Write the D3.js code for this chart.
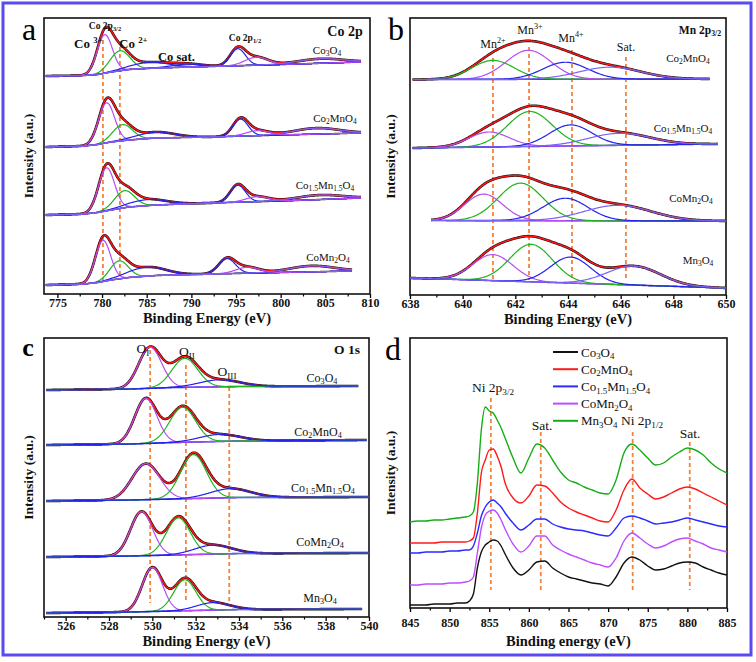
<!DOCTYPE html>
<html><head><meta charset="utf-8">
<script src="https://cdn.jsdelivr.net/npm/d3@7"></script>
<style>body{margin:0;background:#fff}</style>
</head><body>
<svg id="chart" width="756" height="662"></svg>
<script>
// ================= DATA =================
// sample names (_ = subscript)
const samplesA = ["Co_3O_4", "Co_2MnO_4", "Co_{1.5}Mn_{1.5}O_4", "CoMn_2O_4"];
const samplesB = ["Co_2MnO_4", "Co_{1.5}Mn_{1.5}O_4", "CoMn_2O_4", "Mn_3O_4"];
const samplesC = ["Co_3O_4", "Co_2MnO_4", "Co_{1.5}Mn_{1.5}O_4", "CoMn_2O_4", "Mn_3O_4"];
const samplesD = ["Co_3O_4", "Co_2MnO_4", "Co_{1.5}Mn_{1.5}O_4", "CoMn_2O_4", "Mn_3O_4"];

// ---- (a) Co 2p : energy range, background [eV, intensity], fitted peaks [centre eV, height, FWHM, component]
const coRanges = [[773.7, 809], [773.7, 809], [773.7, 809], [773.7, 808]];
const coBackgrounds = [
  [[773.7,218],[778,218.5],[779.5,219.5],[781,222],[783,224.5],[786,226],[792,227.5],[800,229.5],[809,232]],
  [[773.7,147],[778,148],[779.5,149.5],[781,152],[783,154],[786,156],[792,157],[800,159],[809,161]],
  [[773.7,79],[778,80],[779.5,81.5],[781,84],[783,87],[786,89],[792,91],[800,93],[809,96]],
  [[773.7,9],[778,10],[779.5,11.5],[781,14],[783,16.5],[786,18.5],[792,20],[800,21.5],[808,23]]
];
const coComponents = ["Co3+ 2p3/2", "Co2+ 2p3/2", "sat 2p3/2", "Co3+ 2p1/2", "Co2+ 2p1/2", "sat 2p1/2"];
const coPeaks = [
  [[780.3,38.5,2.0,0],[782.0,20,2.6,1],[785.3,6,5,2],[789.5,3,4,2],[795.2,17,2.0,3],[797.3,8,3,4],[804.5,4.5,6,5]],
  [[780.5,40,2.1,0],[782.3,16,2.6,1],[786.0,6,5,2],[795.5,17,2.0,3],[797.4,5,3,4],[804.0,6,6,5]],
  [[780.5,43,2.1,0],[782.5,17,2.6,1],[785.1,6,5,2],[795.2,17,2.0,3],[797.4,5,3,4],[804.4,4.5,6,5]],
  [[780.1,41,2.0,0],[781.9,18,2.4,1],[785.0,9,5,2],[794.0,15,2.2,3],[796.3,6,3,4],[803.5,6,6,5]]
];
const coMarkers = [780.1, 782.0];
const coTicks = [775, 780, 785, 790, 795, 800, 805, 810];

// ---- (b) Mn 2p3/2
const mnRanges = [[638.1, 649.4], [638.1, 649.7], [638.8, 650], [638, 650]];
const mnBackgrounds = [
  [[638.1,215.5],[649.4,216]],
  [[638.1,147],[649.7,151]],
  [[638.8,74.5],[650,74]],
  [[638,17],[650,7]]
];
const mnComponents = ["Mn2+", "Mn3+", "Mn4+", "Sat."];
const mnPeaks = [
  [[641.15,19,1.9,0],[642.5,29,2.0,1],[643.9,17,2.0,2],[645.6,12,2.8,3]],
  [[641.0,15,1.8,0],[642.55,35,2.0,1],[644.1,21,1.9,2],[645.95,12,2.8,3]],
  [[640.8,26.5,1.7,0],[642.2,37.5,2.0,1],[643.9,22.5,2.0,2],[645.9,15.5,3.0,3]],
  [[641.15,26,1.8,0],[642.6,37.5,1.9,1],[644.1,26,1.8,2],[646.5,19,2.4,3]]
];
const mnMarkers = [641.15, 642.52, 644.15, 646.2];
const mnTicks = [638, 640, 642, 644, 646, 648, 650];

// ---- (c) O 1s
const oRanges = [[525.1, 539.5], [525.1, 539.9], [525.1, 540], [525.1, 540], [525.1, 539.7]];
const oBackgrounds = [
  [[525.1,227],[529,228],[531,229.5],[534,230.5],[539.5,231]],
  [[525.1,172],[529,173],[531,174.5],[534,176],[539.9,177]],
  [[525.1,116],[529,117],[531,118],[534,119.5],[540,120]],
  [[525.1,60],[529,61],[531,62],[534,63.5],[540,64]],
  [[525.1,4],[529,5],[531,6],[534,7.5],[539.7,8]]
];
const oComponents = ["OI", "OII", "OIII"];
const oPeaks = [
  [[529.9,41,1.25,0],[531.5,29,1.4,1],[533.1,7,2.2,2]],
  [[529.7,45,1.2,0],[531.4,35,1.4,1],[533.1,7,2.2,2]],
  [[529.7,36,1.5,0],[531.9,44,1.4,1],[533.6,9,2.2,2]],
  [[529.5,44,1.2,0],[531.2,37,1.3,1],[532.8,9,2.0,2]],
  [[530.0,44,1.1,0],[531.5,31,1.2,1],[532.8,7.5,1.8,2]]
];
const oMarkers = [529.9, 531.55, 533.55];
const oTicks = [526, 528, 530, 532, 534, 536, 538, 540];

// ---- (d) Ni 2p : binding energy grid and offset intensities
const niEnergy = [845,846,847,848,849,850,851,852,852.5,853,853.5,854,854.5,855,855.5,856,856.5,
  857,858,859,860,861,862,863,864,865,866,867,868,869,870,871,872,873,874,875,876,877,878,879,880,881,882,883,884,885];
const niCo3O4 = [3,3,3,4,4,4,5,5,7,14,40,56,63,66,68,67,62,
  54,40,33,38,46,47,40,35,31,29,27,25,24,22,31,45,51,48,42,38,39,42,45,46,45,41,38,35,33];
const niCo2MnO4 = [65,65,65,65,66,66,66,66,67,70,95,135,148,158,159,152,141,
  125,110,105,112,123,122,115,106,100,96,93,90,87,86,98,118,129,120,114,109,111,115,119,121,119,115,111,107,103];
const niCo15Mn15O4 = [55,55,56,56,56,57,57,58,58,62,75,92,101,106,108,105,101,
  95,85,78,83,89,89,84,81,79,78,77,75,73,72,80,90,92,90,87,84,85,86,88,90,88,86,84,82,81];
const niCoMn2O4 = [23,23,24,24,24,25,25,26,27,31,55,80,93,97,98,95,88,
  79,64,56,62,72,72,63,58,54,51,48,45,43,41,50,67,75,70,64,60,62,66,69,70,67,64,60,58,56];
const niMn3O4 = [86,87,87,88,88,89,90,91,92,96,125,178,201,197,195,188,180,
  170,150,135,150,164,160,148,136,128,125,121,118,115,114,128,155,164,158,150,143,145,151,156,160,158,153,145,139,135];
const niSeries = [niCo3O4, niCo2MnO4, niCo15Mn15O4, niCoMn2O4, niMn3O4];
const niMarkers = [855.2, 861.5, 873.1, 880.3];
const niTicks = [845, 850, 855, 860, 865, 870, 875, 880, 885];

// ================= DRAWING =================
const SERIF = "'Liberation Serif','Times New Roman',serif";
const C = {purple:"#b64cf2", green:"#1fb41f", blue:"#2323ee", lav:"#7a62f8", red:"#ff1515", orange:"#f5813b"};
const svg = d3.select('#chart');
svg.append('rect').attr('x',3).attr('y',3).attr('width',748).attr('height',652)
  .attr('fill','none').attr('stroke','#5a4af2').attr('stroke-width',3);

function panel(xd, xr, yd, yr) {
  return {x: d3.scaleLinear().domain(xd).range(xr), y: d3.scaleLinear().domain(yd).range(yr),
          x0: xr[0], x1: xr[1], yb: yr[0], yt: yr[1]};
}
const PA = panel([773.5, 810], [44, 370], [0, 276], [294, 18]);
const PB = panel([638, 650], [410, 726], [0, 277], [295, 18]);
const PC = panel([525, 540], [44, 369], [0, 279], [617, 338]);
const PD = panel([845, 885], [410, 727], [0, 270], [608, 338]);

function rich(t, str, size) {
  const re = /([_^])(\{([^}]*)\}|(.))|([^_^]+)/g;
  let m, shift = 0;
  while ((m = re.exec(str))) {
    let txt, s = 0;
    if (m[5] !== undefined) { txt = m[5]; }
    else { txt = m[3] !== undefined ? m[3] : m[4]; s = m[1] === '_' ? size * 0.2 : -size * 0.4; }
    const ts = t.append('tspan').text(txt);
    if (s - shift !== 0) ts.attr('dy', s - shift);
    if (s !== 0) ts.attr('font-size', size * 0.68);
    shift = s;
  }
  return t;
}
function label(x, y, str, size, opts = {}) {
  const t = svg.append('text').attr('x', x).attr('y', y).attr('font-family', SERIF)
    .attr('font-size', size).attr('fill', '#111')
    .attr('text-anchor', opts.anchor || 'middle').attr('font-weight', opts.bold ? 'bold' : 'normal');
  return rich(t, str, size);
}

function axes(P, ticks, minorStep, xlabel, labelY, tickPad, ylabelX) {
  const g = svg.append('g');
  const ax = g.append('g').attr('transform', `translate(0,${P.yb})`)
    .call(d3.axisBottom(P.x).tickValues(ticks).tickSize(4).tickPadding(tickPad).tickFormat(d3.format('d')));
  ax.select('.domain').remove();
  ax.selectAll('line').attr('stroke', '#000').attr('stroke-width', 1.3);
  ax.selectAll('text').attr('font-family', SERIF).attr('font-weight', 'bold').attr('font-size', 12).attr('fill', '#111');
  const dom = P.x.domain();
  const minor = d3.range(Math.ceil(dom[0] / minorStep) * minorStep, dom[1] + 1e-9, minorStep)
    .filter(v => !ticks.some(t => Math.abs(t - v) < 1e-6));
  const mg = g.append('g').attr('transform', `translate(0,${P.yb})`)
    .call(d3.axisBottom(P.x).tickValues(minor).tickSize(2.5).tickFormat(''));
  mg.select('.domain').remove();
  mg.selectAll('line').attr('stroke', '#000').attr('stroke-width', 1.2);
  g.append('rect').attr('x', P.x0).attr('y', P.yt).attr('width', P.x1 - P.x0).attr('height', P.yb - P.yt)
    .attr('fill', 'none').attr('stroke', '#111').attr('stroke-width', 1.6);
  g.append('text').attr('x', (P.x0 + P.x1) / 2).attr('y', labelY).attr('text-anchor', 'middle')
    .attr('font-family', SERIF).attr('font-weight', 'bold').attr('font-size', 14.5).attr('fill', '#111').text(xlabel);
  g.append('text').attr('transform', `translate(${ylabelX},${(P.yt + P.yb) / 2}) rotate(-90)`)
    .attr('text-anchor', 'middle').attr('font-family', SERIF).attr('font-weight', 'bold')
    .attr('font-size', 13.5).attr('fill', '#111').text('Intensity (a.u.)');
}

function markers(P, list, tops, bottom) {
  list.forEach((e, i) => {
    svg.append('line').attr('x1', P.x(e)).attr('x2', P.x(e)).attr('y1', P.y(tops[i])).attr('y2', P.y(bottom))
      .attr('stroke', C.orange).attr('stroke-width', 1.8).attr('stroke-dasharray', '4,3');
  });
}

const gauss = (x, c, h, w) => h * Math.exp(-4 * Math.LN2 * (x - c) * (x - c) / (w * w));

function fits(P, ranges, bgs, peaks, colorsFor, bgColor) {
  const line = d3.line().x(d => P.x(d[0])).y(d => P.y(d[1]));
  ranges.forEach((r, i) => {
    const bg = d3.scaleLinear().domain(bgs[i].map(d => d[0])).range(bgs[i].map(d => d[1])).clamp(true);
    const xs = d3.range(r[0], r[1] + 1e-9, 0.03);
    const env = xs.map(x => [x, bg(x) + d3.sum(peaks[i], p => gauss(x, p[0], p[1], p[2]))]);
    svg.append('path').attr('d', line(env)).attr('fill', 'none').attr('stroke', '#111').attr('stroke-width', 2.6);
    svg.append('path').attr('d', line(env)).attr('fill', 'none').attr('stroke', C.red).attr('stroke-width', 1.5);
    if (bgColor) svg.append('path').attr('d', line(xs.map(x => [x, bg(x)])))
      .attr('fill', 'none').attr('stroke', bgColor).attr('stroke-width', 1.6);
    peaks[i].forEach(p => {
      svg.append('path').attr('d', line(xs.map(x => [x, bg(x) + gauss(x, p[0], p[1], p[2])])))
        .attr('fill', 'none').attr('stroke', colorsFor(i, p[3])).attr('stroke-width', 1.2);
    });
  });
}

// ---- panel a
axes(PA, coTicks, 2.5, 'Binding Energy (eV)', 323, 0, 33);
markers(PA, coMarkers, [254, 247], 14);
fits(PA, coRanges, coBackgrounds, coPeaks,
  (i, k) => [C.purple, C.green, C.blue, C.blue, C.purple, C.lav][k], '#5b2330');
// ---- panel b
axes(PB, mnTicks, 1, 'Binding Energy (eV)', 324, 0, 395);
markers(PB, mnMarkers, [237, 248, 245, 238], 15);
const mnColorSets = [[C.green, C.purple, C.blue, C.lav], [C.purple, C.green, C.blue, C.lav],
                     [C.purple, C.green, C.blue, C.lav], [C.purple, C.green, C.blue, C.lav]];
fits(PB, mnRanges, mnBackgrounds, mnPeaks, (i, k) => mnColorSets[i][k], '#4a3ae0');
// ---- panel c
axes(PC, oTicks, 1, 'Binding Energy (eV)', 646, 0, 33);
markers(PC, oMarkers, [267, 252, 230], 14);
fits(PC, oRanges, oBackgrounds, oPeaks, (i, k) => [C.purple, C.green, C.blue][k], '#2a2ae8');
// ---- panel d
axes(PD, niTicks, 2.5, 'Binding energy (eV)', 646, 6, 395);
markers(PD, niMarkers, [210, 176, 176, 166], 18);
const niColors = ['#111111', '#ff1a1a', '#2a2aff', '#c04cff', '#16ad16'];
const niLine = d3.line().x((d, j) => PD.x(niEnergy[j])).y(d => PD.y(d)).curve(d3.curveMonotoneX);
niSeries.forEach((s, i) => {
  svg.append('path').attr('d', niLine(s)).attr('fill', 'none').attr('stroke', niColors[i]).attr('stroke-width', 1.4);
});
// legend
samplesD.forEach((name, i) => {
  const y = 352 + i * 17.2;
  svg.append('line').attr('x1', 553).attr('x2', 578).attr('y1', y).attr('y2', y)
    .attr('stroke', niColors[i]).attr('stroke-width', 2);
  label(581, y + 4.5, name, 13, {anchor: 'start'});
});

// ---- panel letters
svg.append('text').attr('x', 29).attr('y', 40).attr('text-anchor', 'middle').attr('font-family', SERIF).attr('font-size', 32).text('a');
svg.append('text').attr('x', 396).attr('y', 40).attr('text-anchor', 'middle').attr('font-family', SERIF).attr('font-size', 32).text('b');
svg.append('text').attr('x', 28).attr('y', 356).attr('text-anchor', 'middle').attr('font-family', SERIF).attr('font-weight', 'bold').attr('font-size', 26).text('c');
svg.append('text').attr('x', 393).attr('y', 360).attr('text-anchor', 'middle').attr('font-family', SERIF).attr('font-size', 32).text('d');

// ---- annotations panel a
label(345, 36, 'Co 2p', 14, {bold: true});
[[327, 54], [335, 122], [325, 189], [328, 261]].forEach((p, i) => label(p[0], p[1], samplesA[i], 11));
label(74, 48, 'Co ^{3+}', 13, {bold: true, anchor: 'start'});
label(119, 48, 'Co ^{2+}', 13, {bold: true, anchor: 'start'});
label(105, 29, 'Co 2p_{3/2}', 9.5, {bold: true});
label(158, 61, 'Co sat.', 12.5, {bold: true, anchor: 'start'});
label(245, 41, 'Co 2p_{1/2}', 9.5, {bold: true});
// ---- annotations panel b
label(700, 34, 'Mn 2p_{3/2}', 11.5, {bold: true});
label(493, 48, 'Mn^{2+}', 12);
label(530, 34, 'Mn^{3+}', 12);
label(571, 42, 'Mn^{4+}', 12);
label(626, 51, 'Sat.', 12);
[[688, 62], [683, 132], [691, 202], [698, 264]].forEach((p, i) => label(p[0], p[1], samplesB[i], 11));
// ---- annotations panel c
label(347, 354, 'O 1s', 13.5, {bold: true});
label(143, 353, 'O_I', 13.5);
label(187, 356, 'O_{II}', 13.5);
label(227, 376, 'O_{III}', 13.5);
[[322, 382], [318, 436], [323, 492], [320, 546], [320, 602]].forEach((p, i) => label(p[0], p[1], samplesC[i], 12));
// ---- annotations panel d
label(493, 392, 'Ni 2p_{3/2}', 13.5);
label(542, 430, 'Sat.', 13.5);
label(642, 425, 'Ni 2p_{1/2}', 13.5);
label(690, 438, 'Sat.', 13.5);
</script>
</body></html>
